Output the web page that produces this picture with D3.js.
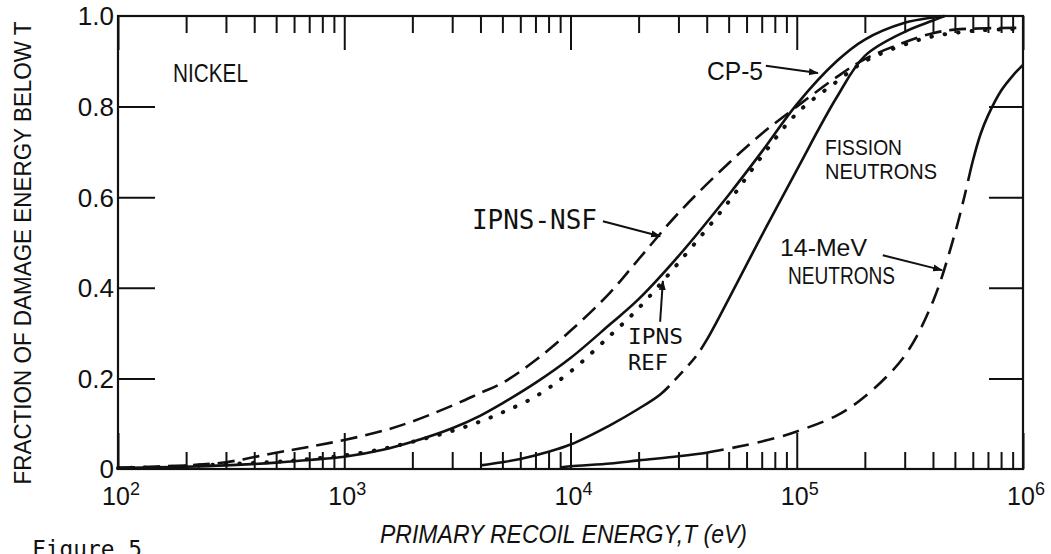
<!DOCTYPE html>
<html>
<head>
<meta charset="utf-8">
<script src="https://cdn.jsdelivr.net/npm/d3@7"></script>
<style>
body { margin: 0; background: #fff; }
svg { display: block; }
.curve { fill: none; stroke: #111; }
.tick line { stroke: #111; stroke-width: 2; }
.domain { display: none; }
text { fill: #111; }
</style>
</head>
<body>
<script>
// Nickel: fraction of damage energy below T
// each pair is [T (eV), fraction]
var ipnsNsf = [[1e2,0.003],[2e2,0.008],[3e2,0.015],[5e2,0.036],[7e2,0.049],[1e3,0.064],[1.5e3,0.085],[2e3,0.105],[3e3,0.14],[4e3,0.168],[5e3,0.19],[7e3,0.24],[1e4,0.305],[1.5e4,0.39],[2e4,0.463],[3e4,0.565],[5e4,0.675],[7e4,0.74],[1e5,0.80],[1.5e5,0.865],[2e5,0.905],[3e5,0.942],[4e5,0.962],[5e5,0.97],[1e6,0.974]];
var cp5 = [[1e2,0.002],[2e2,0.005],[3e2,0.008],[5e2,0.014],[7e2,0.02],[1e3,0.027],[1.5e3,0.043],[2e3,0.06],[3e3,0.09],[4e3,0.118],[5e3,0.145],[7e3,0.19],[1e4,0.245],[1.5e4,0.32],[2e4,0.375],[3e4,0.47],[5e4,0.605],[7e4,0.70],[1e5,0.805],[1.5e5,0.9],[2e5,0.948],[3e5,0.985],[4e5,0.997],[4.5e5,1.0]];
var ipnsRef = [[1e2,0.002],[2e2,0.006],[3e2,0.011],[5e2,0.016],[7e2,0.022],[1e3,0.03],[1.5e3,0.045],[2e3,0.06],[3e3,0.084],[4e3,0.105],[5e3,0.125],[7e3,0.16],[1e4,0.215],[1.5e4,0.295],[2e4,0.355],[3e4,0.455],[5e4,0.59],[7e4,0.69],[1e5,0.785],[1.5e5,0.855],[2e5,0.9],[3e5,0.937],[4e5,0.955],[6e5,0.967],[1e6,0.972]];
var fission = [[4e3,0.008],[5e3,0.015],[6e3,0.022],[8e3,0.038],[1e4,0.054],[1.5e4,0.097],[2e4,0.133],[2.5e4,0.165],[3e4,0.205],[3.6e4,0.25],[4e4,0.285],[5e4,0.375],[7e4,0.515],[1e5,0.66],[1.5e5,0.82],[2e5,0.912],[3e5,0.965],[4e5,0.99],[4.5e5,1.0]];
var mev14 = [[9e3,0.003],[1e4,0.006],[1.5e4,0.012],[2e4,0.019],[3e4,0.028],[4e4,0.036],[5e4,0.045],[6e4,0.053],[8e4,0.068],[1e5,0.083],[1.5e5,0.118],[2e5,0.16],[3e5,0.25],[4e5,0.37],[5e5,0.52],[5.5e5,0.6],[6e5,0.68],[6.5e5,0.74],[7e5,0.78],[8e5,0.835],[9e5,0.868],[1e6,0.892]];

// T ranges where the fission / 14-MeV curves are drawn dashed
var fissionDashed = [[2.5e4, 3.6e4]];
var mevDashed = [[4e4, 5.6e5]];

var yTicks = [0, 0.2, 0.4, 0.6, 0.8, 1.0];
var yTickLabels = ['0', '0.2', '0.4', '0.6', '0.8', '1.0'];
var decades = [2, 3, 4, 5, 6];

// arrows [from, to] as [T, fraction]
var arrowCp5 = [[7.3e4,0.89],[1.24e5,0.874]];
var arrowNsf = [[1.39e4,0.547],[2.49e4,0.514]];
var arrowRef = [[2.49e4,0.325],[2.56e4,0.415]];
var arrowMev = [[2.4e5,0.472],[4.39e5,0.439]];

var width = 1051, height = 554;
var margin = {top: 16, right: 28, bottom: 85, left: 118};

var x = d3.scaleLog().domain([1e2, 1e6]).range([margin.left, width - margin.right]);
var y = d3.scaleLinear().domain([0, 1]).range([height - margin.bottom, margin.top]);

var svg = d3.select('body').append('svg')
	.attr('width', width)
	.attr('height', height);

svg.append('rect').attr('width', width).attr('height', height).attr('fill', '#fff');

svg.append('defs').append('marker')
	.attr('id', 'head')
	.attr('viewBox', '0 0 10 10')
	.attr('refX', 9).attr('refY', 5)
	.attr('markerWidth', 5).attr('markerHeight', 5)
	.attr('markerUnits', 'strokeWidth')
	.attr('orient', 'auto')
	.append('path').attr('d', 'M0,1.5L10,5L0,8.5Z').attr('fill', '#111');

// ticks: minor 2..9 in every decade, majors at decades
var minor = [];
for (var d = 2; d < 6; d++)
	for (var k = 2; k < 10; k++) minor.push(k * Math.pow(10, d));
var major = decades.map(function(p) { return Math.pow(10, p); });

var x0 = x.range()[0], x1 = x.range()[1];
var yb = y(0), yt = y(1);

svg.append('g').attr('transform', 'translate(0,' + yb + ')')
	.call(d3.axisBottom(x).tickValues(minor).tickSize(-17).tickFormat(''));
svg.append('g').attr('transform', 'translate(0,' + yb + ')')
	.call(d3.axisBottom(x).tickValues(major).tickSize(-36).tickFormat(''));
svg.append('g').attr('transform', 'translate(0,' + yt + ')')
	.call(d3.axisTop(x).tickValues(minor).tickSize(-17).tickFormat(''));
svg.append('g').attr('transform', 'translate(0,' + yt + ')')
	.call(d3.axisTop(x).tickValues(major).tickSize(-34).tickFormat(''));
svg.append('g').attr('transform', 'translate(' + x0 + ',0)')
	.call(d3.axisLeft(y).tickValues([0.2, 0.4, 0.6, 0.8]).tickSize(-37).tickFormat(''));
svg.append('g').attr('transform', 'translate(' + x1 + ',0)')
	.call(d3.axisRight(y).tickValues([0.2, 0.4, 0.6, 0.8]).tickSize(-34).tickFormat(''));

// frame
svg.append('rect')
	.attr('x', x0).attr('y', yt)
	.attr('width', x1 - x0).attr('height', yb - yt)
	.attr('fill', 'none').attr('stroke', '#111').attr('stroke-width', 2.2);

// tick labels
var narrow = "'Liberation Sans Narrow', 'Liberation Sans', sans-serif";
svg.selectAll('.ylab').data(yTicks).enter().append('text')
	.attr('class', 'ylab')
	.attr('x', x0 - 4)
	.attr('y', function(d) { return y(d); })
	.attr('dy', '0.36em')
	.attr('text-anchor', 'end')
	.style('font-family', narrow)
	.style('font-size', '26px')
	.text(function(d, i) { return yTickLabels[i]; });

var xl = svg.selectAll('.xlab').data(decades).enter().append('text')
	.attr('class', 'xlab')
	.attr('x', function(d) { return x(Math.pow(10, d)) + 3; })
	.attr('y', yb + 36)
	.attr('text-anchor', 'middle')
	.style('font-family', narrow)
	.style('font-size', '25px');
xl.append('tspan').text('10');
xl.append('tspan').attr('dy', -10).style('font-size', '18px').text(function(d) { return d; });

// curves
var line = d3.line()
	.x(function(d) { return x(d[0]); })
	.y(function(d) { return y(d[1]); })
	.curve(d3.curveCatmullRom.alpha(0.5));

function curve(data) {
	return svg.append('path')
		.datum(data)
		.attr('class', 'curve')
		.attr('d', line)
		.style('stroke-width', 2.6);
}

// solid curve that turns dashed over the given T ranges
function partlyDashed(p, ranges, pattern) {
	var node = p.node();
	var total = node.getTotalLength();
	function lenAt(px) {
		var lo = 0, hi = total;
		for (var i = 0; i < 30; i++) {
			var mid = (lo + hi) / 2;
			if (node.getPointAtLength(mid).x < px) lo = mid; else hi = mid;
		}
		return lo;
	}
	var arr = [], pos = 0;
	ranges.forEach(function(r) {
		var a = lenAt(x(r[0])), b = lenAt(x(r[1]));
		arr.push(a - pos, 0);
		var l = a;
		while (l < b) {
			var dl = Math.min(pattern[0], b - l);
			arr.push(dl, pattern[1]);
			l += dl + pattern[1];
		}
		pos = l;
	});
	arr.push(total + 10, 0);
	p.style('stroke-dasharray', arr.join(','));
}

curve(ipnsNsf).style('stroke-dasharray', '17,8');
curve(cp5);
curve(ipnsRef)
	.style('stroke-dasharray', '0.5,13')
	.style('stroke-linecap', 'round')
	.style('stroke-width', 4);
partlyDashed(curve(fission), fissionDashed, [12, 8]);
partlyDashed(curve(mev14), mevDashed, [17, 9]);

// arrows
[arrowCp5, arrowNsf, arrowRef, arrowMev].forEach(function(a) {
	svg.append('line')
		.attr('x1', x(a[0][0])).attr('y1', y(a[0][1]))
		.attr('x2', x(a[1][0])).attr('y2', y(a[1][1]))
		.attr('stroke', '#111').attr('stroke-width', 2)
		.attr('marker-end', 'url(#head)');
});

// labels
function label(txt, px, py, font, size, len) {
	var t = svg.append('text')
		.attr('x', px).attr('y', py)
		.style('font-family', font)
		.style('font-size', size + 'px')
		.text(txt);
	if (len) t.attr('textLength', len).attr('lengthAdjust', 'spacingAndGlyphs');
	return t;
}

var mono = "'DejaVu Sans Mono', monospace";
label('NICKEL', 173, 82, narrow, 25, 75);
label('CP-5', 707, 80, narrow, 25, 56);
label('FISSION', 825, 155, narrow, 21.5, 77);
label('NEUTRONS', 825, 179, narrow, 21.5, 112);
label('14-MeV', 780, 256, narrow, 24, 87);
label('NEUTRONS', 788, 284, narrow, 24, 107);
label('IPNS-NSF', 472, 229, mono, 26, 125);
label('IPNS', 628, 344, mono, 22, 55);
label('REF', 628, 370, mono, 22, 40);

// axis titles
svg.append('text')
	.attr('transform', 'translate(31,253) rotate(-90)')
	.attr('text-anchor', 'middle')
	.attr('textLength', 463).attr('lengthAdjust', 'spacingAndGlyphs')
	.style('font-family', narrow)
	.style('font-size', '23px')
	.text('FRACTION OF DAMAGE ENERGY BELOW T');

label('PRIMARY RECOIL ENERGY,T (eV)', 380, 543, narrow, 26, 367).style('font-style', 'italic');
label('Figure 5', 32, 557, mono, 23, 110);
</script>
</body>
</html>
